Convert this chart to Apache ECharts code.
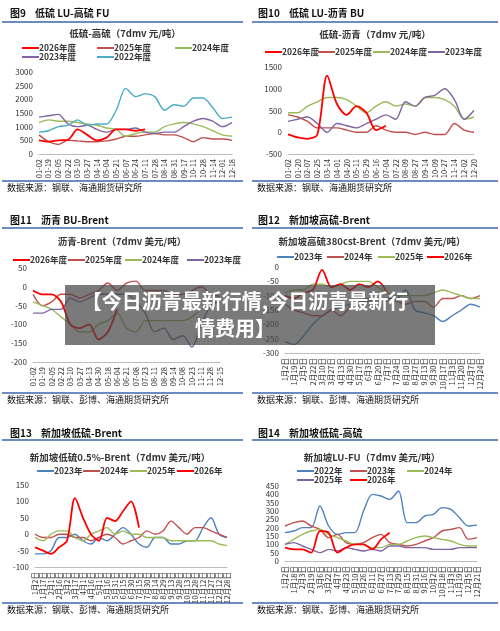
<!DOCTYPE html>
<html><head><meta charset="utf-8">
<script src="https://cdn.jsdelivr.net/npm/echarts@6/dist/echarts.min.js"></script>
<style>html,body{margin:0;padding:0;background:#fff}#c{width:500px;height:631px}</style>
</head><body><div id="c"></div>
<script>
// ---- Panel 9: 低硫-高硫 (元/吨)
const p9Dates = ['01-02','01-19','02-05','02-22','03-10','03-27','04-14','05-04','05-21','06-07','06-24','07-11','07-28','08-14','08-31','09-17','10-11','10-28','11-14','12-01','12-18'];
const p9_2026 = [500,450,500,520,900,700,500,600,900,900,850,900];
const p9_2025 = [700,450,350,500,480,450,450,480,550,650,650,700,750,700,700,600,450,600,550,550,500];
const p9_2024 = [1150,1250,1200,1200,1150,1100,1050,950,900,650,750,800,800,1000,1100,1150,1100,1000,850,700,650];
const p9_2023 = [1350,1400,1450,1100,1000,1050,900,800,900,900,950,800,750,800,800,1000,1200,1300,1200,1000,1150];
const p9_2022 = [800,850,1000,1050,1250,1050,1100,1100,1600,2400,2100,2200,2100,1600,1800,1750,2050,2050,1700,1300,1350];
// ---- Panel 10: 低硫-沥青
const p10Dates = ['01-02','01-20','02-07','02-25','03-14','04-01','04-20','05-11','05-29','06-16','07-04','07-22','08-09','08-27','09-14','10-09','10-27','11-14','12-02','12-20'];
const p10_2026 = [-50,-120,-150,-50,1300,650,400,600,450,50,150];
const p10_2025 = [400,350,250,100,100,100,50,0,0,150,50,0,0,-50,0,-50,-50,200,50,0];
const p10_2024 = [450,450,600,700,800,800,750,600,450,600,700,600,650,600,800,800,750,600,300,350];
const p10_2023 = [250,300,350,200,0,200,150,100,200,300,400,300,700,600,800,850,1000,750,300,500];
// ---- Panel 11: 沥青-Brent
const p11Dates = ['01-02','01-19','02-05','02-22','03-10','03-27','04-13','04-30','05-18','06-04','06-21','07-08','07-23','08-11','08-28','09-14','10-08','10-23','11-11','11-28','12-15'];
const p11_2026 = [-10,-20,-20,-40,-100,-110,-100,-140,-120,-60];
const p11_2025 = [-20,-50,-40,-20,-20,-30,-20,-10,10,-10,10,15,-10,-10,-10,-20,-20,-10,0,-20,-25];
const p11_2024 = [-40,-50,-60,-80,-100,-120,-120,-100,-90,-70,-110,-120,-90,-90,-90,-90,-90,-80,-60,-40,-40];
const p11_2023 = [-70,-70,-60,-60,-30,-40,-30,-20,-20,-20,-20,-40,-70,-120,-110,-140,-130,-160,-100,-50,-40];
// ---- Panel 12: 新加坡高硫380cst-Brent
const p12Dates = ['1月2日','1月19日','2月5日','2月22日','3月10日','3月27日','4月13日','4月30日','5月17日','6月3日','6月20日','7月7日','7月24日','8月10日','8月27日','9月13日','9月30日','10月17日','11月3日','11月20日','12月7日','12月24日'];
const p12_2023 = [-260,-270,-240,-200,-170,-150,-140,-130,-120,-120,-110,-110,-110,-80,-150,-160,-170,-190,-170,-150,-130,-140];
const p12_2024 = [-130,-150,-160,-170,-170,-150,-170,-140,-120,-110,-110,-120,-120,-130,-120,-120,-140,-110,-110,-100,-110,-100];
const p12_2025 = [-90,-80,-80,-60,-60,-70,-60,-50,-50,-50,-70,-90,-100,-100,-100,-100,-90,-80,-90,-100,-110,-110];
const p12_2026 = [-100,-110,-90,-80,-10,-70,-60,-80,-60,-70,-50,-90];
// ---- Panel 13: 新加坡低硫0.5%-Brent
const p13Dates = ['1月2日','1月17日','2月1日','2月16日','3月2日','3月17日','4月1日','4月16日','5月1日','5月16日','5月31日','6月15日','6月30日','7月15日','7月30日','8月14日','8月29日','9月13日','9月28日','10月13日','10月28日','11月12日','11月27日','12月12日','12月28日'];
const p13_2023 = [-60,-60,-50,-10,-10,0,-20,-30,-10,-20,0,20,0,-30,-40,-10,-10,-30,-30,-20,-20,20,50,0,-10];
const p13_2024 = [0,-10,-10,0,0,-10,-10,-20,-10,0,-10,-30,-20,-10,10,0,10,40,20,0,20,20,10,0,-10];
const p13_2025 = [-10,-20,0,10,10,-10,-20,0,10,20,0,10,0,0,-10,-10,-10,-20,-20,-20,-20,-20,-20,-30,-35];
const p13_2026 = [-40,-50,-60,-40,-20,110,50,0,-20,50,40,70,100,20];
// ---- Panel 14: 新加坡LU-FU
const p14Dates = ['1月2日','1月18日','2月3日','2月19日','3月6日','3月22日','4月7日','4月23日','5月10日','5月26日','6月11日','6月27日','7月13日','7月29日','8月15日','8月31日','9月16日','10月2日','10月18日','11月3日','11月19日','12月5日','12月21日'];
const p14_2022 = [170,180,200,200,330,210,160,170,170,300,400,390,370,420,230,230,270,280,320,310,260,210,215];
const p14_2023 = [210,230,240,210,190,140,160,110,100,110,140,160,110,100,90,100,120,140,180,190,200,130,140];
const p14_2024 = [100,130,160,180,190,160,140,120,100,100,80,80,100,100,120,140,150,140,130,120,100,90,90];
const p14_2025 = [100,110,90,70,50,70,60,80,70,60,70,60,90,90,80,80,80,70,70,70,80,80,80];
const p14_2026 = [80,70,70,50,180,170,50,80,100,100,70,130,170];

const RED='#ff0000', BR='#c0504d', GR='#9bbb59', PU='#8064a2', CY='#4bacc6', BL='#4f81bd';
const panels = [
 {hdr:'图9    低硫 LU-高硫 FU', hx:10, hy:13, lx0:2, lx1:243, ly:22, title:'低硫-高硫（7dmv 元/吨）', tx:125, ty:33, src:188, sl:181,
  grid:{left:39,top:72,width:193,height:82}, min:0,max:3000,int:500, dates:p9Dates,
  ser:[['2026年度',p9_2026,RED,22,48],['2025年度',p9_2025,BR,97,48],['2024年度',p9_2024,GR,175,48],['2023年度',p9_2023,PU,22,57],['2022年度',p9_2022,CY,97,57]]},
 {hdr:'图10    低硫 LU-沥青 BU', hx:258, hy:13, lx0:252, lx1:498, ly:22, title:'低硫-沥青（7dmv 元/吨）', tx:375, ty:34, src:188, sl:181,
  grid:{left:288,top:67,width:186,height:87}, min:-500,max:1500,int:500, dates:p10Dates,
  ser:[['2026年度',p10_2026,RED,265,52],['2025年度',p10_2025,BR,318,52],['2024年度',p10_2024,GR,373,52],['2023年度',p10_2023,PU,428,52]]},
 {hdr:'图11    沥青 BU-Brent', hx:10, hy:220, lx0:2, lx1:243, ly:228, title:'沥青-Brent（7dmv 美元/吨）', tx:122, ty:241, src:400, sl:393,
  grid:{left:33,top:268,width:187,height:94}, min:-200,max:50,int:50, dates:p11Dates,
  ser:[['2026年度',p11_2026,RED,13,260],['2025年度',p11_2025,BR,68,260],['2024年度',p11_2024,GR,125,260],['2023年度',p11_2023,PU,187,260]]},
 {hdr:'图12    新加坡高硫-Brent', hx:258, hy:220, lx0:252, lx1:498, ly:228, title:'新加坡高硫380cst-Brent（7dmv 美元/吨）', tx:372, ty:241, src:400, sl:393,
  grid:{left:285,top:267,width:195,height:86}, min:-300,max:0,int:50, dates:p12Dates,
  ser:[['2023年',p12_2023,BL,277,257],['2024年',p12_2024,BR,327,257],['2025年',p12_2025,GR,378,257],['2026年',p12_2026,RED,427,257]]},
 {hdr:'图13    新加坡低硫-Brent', hx:10, hy:433, lx0:2, lx1:243, ly:440, title:'新加坡低硫0.5%-Brent（7dmv 美元/吨）', tx:120, ty:457, src:610, sl:603,
  grid:{left:35,top:485,width:192,height:82}, min:-100,max:150,int:50, dates:p13Dates,
  ser:[['2023年',p13_2023,BL,37,471],['2024年',p13_2024,BR,83,471],['2025年',p13_2025,GR,130,471],['2026年',p13_2026,RED,177,471]]},
 {hdr:'图14    新加坡低硫-高硫', hx:258, hy:433, lx0:252, lx1:498, ly:440, title:'新加坡LU-FU（7dmv 美元/吨）', tx:372, ty:457, src:610, sl:603,
  grid:{left:285,top:486,width:192,height:75}, min:0,max:450,int:50, dates:p14Dates,
  ser:[['2022年',p14_2022,BL,297,471],['2023年',p14_2023,BR,350,471],['2024年',p14_2024,GR,407,471],['2025年',p14_2025,PU,297,480],['2026年',p14_2026,RED,350,480]]},
];
const FONT='"Noto Sans CJK SC", sans-serif';
const grid=[],xAxis=[],yAxis=[],series=[],graphic=[];
panels.forEach((p,i)=>{
  grid.push(p.grid);
  xAxis.push({type:'category',gridIndex:i,data:p.dates,boundaryGap:false,
    axisLine:{onZero:false,lineStyle:{color:'#bbb'}},axisTick:{show:false},
    axisLabel:{rotate:90,fontSize:7.5,color:'#333',interval:0,fontFamily:FONT,margin:5}});
  yAxis.push({type:'value',gridIndex:i,min:p.min,max:p.max,interval:p.int,splitLine:{show:false},
    axisLine:{show:false},axisTick:{show:false},axisLabel:{fontSize:8,color:'#333',fontFamily:FONT,margin:6,formatter:v=>String(v)}});
  p.ser.forEach(s=>{
    series.push({type:'line',name:s[0],xAxisIndex:i,yAxisIndex:i,data:s[1],smooth:0.3,showSymbol:false,
      lineStyle:{color:s[2],width:s[2]===RED?1.8:1.4},itemStyle:{color:s[2]},z:s[2]===RED?5:2});
    graphic.push({type:'line',shape:{x1:s[3],y1:s[4],x2:s[3]+17,y2:s[4]},style:{stroke:s[2],lineWidth:2}});
    graphic.push({type:'text',x:s[3]+17,y:s[4],style:{text:s[0],fontSize:8.5,fill:'#333',fontFamily:FONT,fontWeight:'bold',verticalAlign:'middle'}});
  });
  graphic.push({type:'text',x:p.hx,y:p.hy,style:{text:p.hdr,fontSize:10,fill:'#111',fontFamily:FONT,fontWeight:'bold',verticalAlign:'middle'}});
  graphic.push({type:'line',shape:{x1:p.lx0,y1:p.ly,x2:p.lx1,y2:p.ly},style:{stroke:'#3b64a8',lineWidth:1.5}});
  graphic.push({type:'text',x:p.tx,y:p.ty,style:{text:p.title,fontSize:9.5,fill:'#333',fontFamily:FONT,fontWeight:'bold',align:'center',verticalAlign:'middle'}});
  graphic.push({type:'line',shape:{x1:p.lx0,y1:p.sl,x2:p.lx1,y2:p.sl},style:{stroke:'#3b64a8',lineWidth:1.5}});
  graphic.push({type:'text',x:p.lx0+5,y:p.src,style:{text:'数据来源：钢联、'+(i>=2?'彭博、':'')+'海通期货研究所',fontSize:9,fill:'#111',fontFamily:FONT,verticalAlign:'middle'}});
});
graphic.push({type:'rect',shape:{x:65,y:285,width:370,height:60},style:{fill:'rgba(70,70,70,0.72)'},z:100});
graphic.push({type:'text',x:245,y:301,style:{text:'【今日沥青最新行情,今日沥青最新行',fontSize:20,fill:'#fff',fontWeight:'bold',fontFamily:FONT,align:'center',verticalAlign:'middle'},z:101});
graphic.push({type:'text',x:235,y:328,style:{text:'情费用】',fontSize:20,fill:'#fff',fontWeight:'bold',fontFamily:FONT,align:'center',verticalAlign:'middle'},z:101});
const chart=echarts.init(document.getElementById('c'));
chart.setOption({animation:false,grid,xAxis,yAxis,series,graphic});
</script></body></html>
